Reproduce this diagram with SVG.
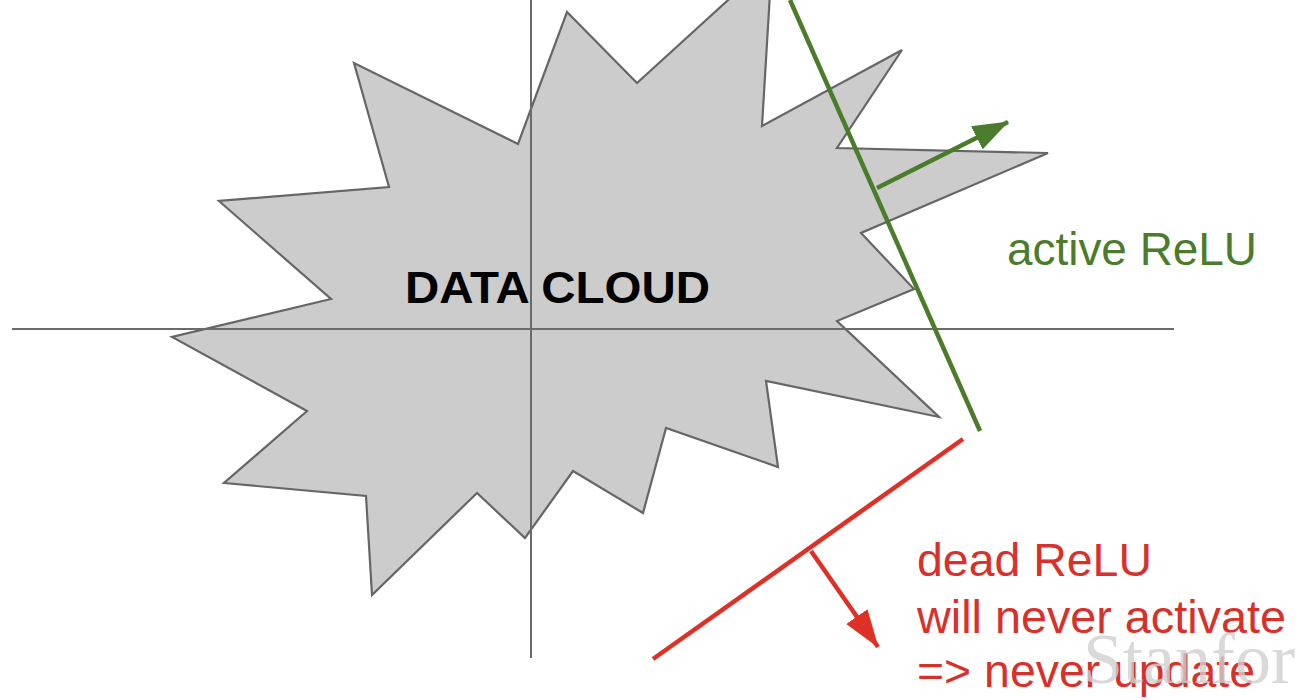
<svg xmlns="http://www.w3.org/2000/svg" width="1298" height="700" viewBox="0 0 1298 700">
  <style>
    .axis { stroke: #6b6b6b; stroke-width: 2; fill: none; }
    .cloud { fill: #cccccc; stroke: #666666; stroke-width: 2.2; stroke-linejoin: miter; }
    .green { stroke: #4a7c2b; stroke-width: 4.5; fill: none; }
    .red { stroke: #df3025; stroke-width: 4.5; fill: none; }
    .label { font-family: "Liberation Sans", Arial, sans-serif; font-size: 46px; }
    .title { font-family: "Liberation Sans", Arial, sans-serif; font-size: 45px; font-weight: bold; fill: #000; }
    .wm { font-family: "Liberation Serif", "Times New Roman", serif; font-size: 72px; fill: #cfcfcf; fill-opacity: 0.8; }
  </style>
  <defs>
    <marker id="arrowGreen" markerUnits="userSpaceOnUse" markerWidth="36" markerHeight="26" refX="35" refY="13" orient="auto">
      <path d="M0,0 L36,13 L0,26 z" fill="#4a7c2b"/>
    </marker>
    <marker id="arrowRed" markerUnits="userSpaceOnUse" markerWidth="38" markerHeight="26" refX="37" refY="13" orient="auto">
      <path d="M0,0 L38,13 L0,26 z" fill="#df3025"/>
    </marker>
  </defs>
  <rect x="0" y="0" width="1298" height="700" fill="#ffffff"/>

  <g id="data-cloud">
    <polygon class="cloud" points="766,381 778,467 666,428 643,513 573,471 525,538 477,493 372,595 366,496 224,483 307,411 172,337 331,299 219,201 389,187 354,63 518,144 567,12 637,83 772,-40 762,126 902,50 837,148 1048,153 861,233 914,289 837,321 939,417"/>
  </g>

  <g id="axes">
    <line class="axis" x1="12" y1="329" x2="1174" y2="329"/>
    <line class="axis" x1="531" y1="0" x2="531" y2="658"/>
  </g>

  <g id="data-cloud-label">
    <text class="title" x="405" y="303" textLength="305" lengthAdjust="spacingAndGlyphs">DATA CLOUD</text>
  </g>

  <g id="connectors">
    <line class="green" x1="790" y1="0" x2="980" y2="431"/>
    <line class="green" x1="877" y1="188" x2="1008" y2="122" marker-end="url(#arrowGreen)"/>
    <line class="red" x1="653" y1="659" x2="963" y2="439"/>
    <line class="red" x1="811" y1="551" x2="878" y2="647" marker-end="url(#arrowRed)"/>
  </g>

  <g id="active-relu">
    <text class="label" x="1007" y="265" fill="#4a7c2b" textLength="250" lengthAdjust="spacingAndGlyphs">active ReLU</text>
  </g>

  <g id="dead-relu">
    <text class="label" x="917" y="576" fill="#d8302a" textLength="235" lengthAdjust="spacingAndGlyphs">dead ReLU</text>
    <text class="label" x="917" y="633" fill="#d8302a" textLength="369" lengthAdjust="spacingAndGlyphs">will never activate</text>
    <text class="label" x="917" y="687" fill="#d8302a" textLength="338" lengthAdjust="spacingAndGlyphs">=&gt; never update</text>
  </g>

  <g id="watermark">
    <text class="wm" x="1083" y="683">Stanfor</text>
  </g>
</svg>
